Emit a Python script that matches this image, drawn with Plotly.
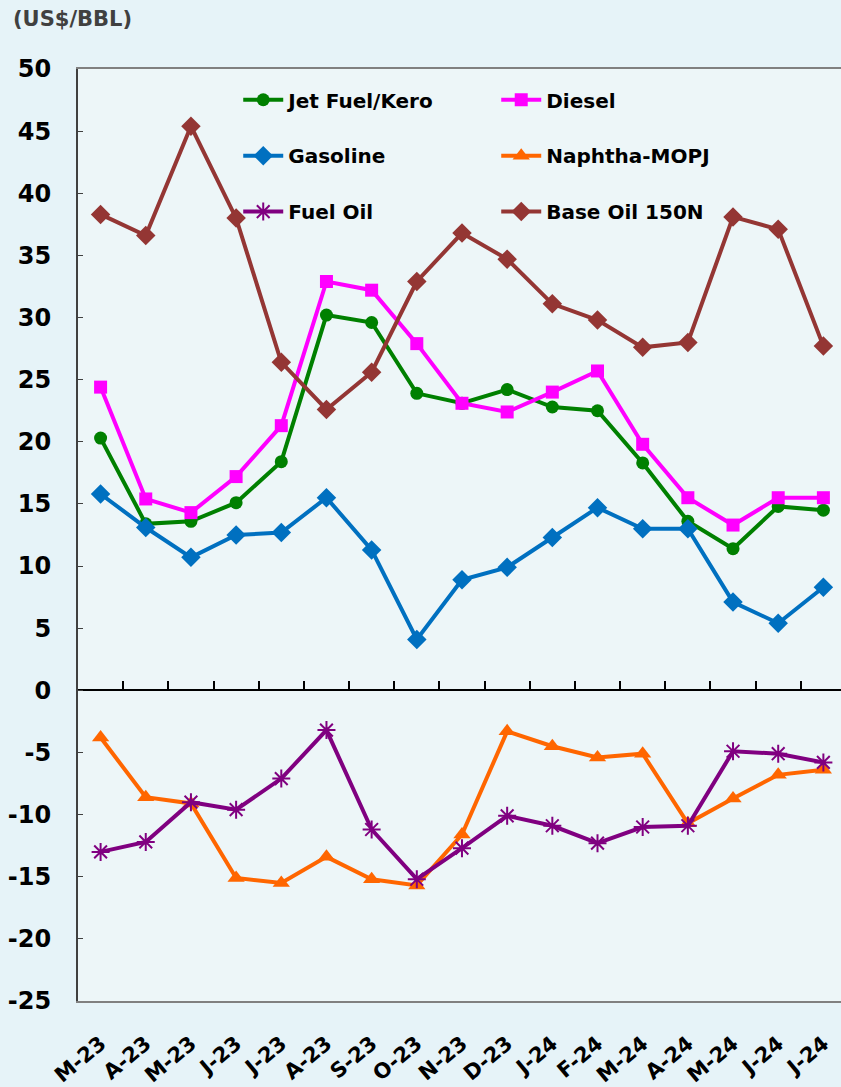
import plotly.graph_objects as go

months = ["M-23", "A-23", "M-23", "J-23", "J-23", "A-23", "S-23", "O-23", "N-23",
          "D-23", "J-24", "F-24", "M-24", "A-24", "M-24", "J-24", "J-24"]

jet_fuel = [20.3, 13.4, 13.6, 15.1, 18.4, 30.2, 29.6, 23.9, 23.1, 24.2, 22.8, 22.5,
            18.3, 13.6, 11.4, 14.8, 14.5]
diesel = [24.4, 15.4, 14.3, 17.2, 21.3, 32.9, 32.2, 27.9, 23.1, 22.4, 24.0, 25.7,
          19.8, 15.5, 13.3, 15.5, 15.5]
gasoline = [15.8, 13.1, 10.7, 12.5, 12.7, 15.5, 11.3, 4.1, 8.9, 9.9, 12.3, 14.7,
            13.0, 13.0, 7.1, 5.4, 8.3]
naphtha = [-3.8, -8.6, -9.1, -15.1, -15.5, -13.4, -15.2, -15.7, -11.6, -3.3, -4.5,
           -5.4, -5.1, -10.7, -8.7, -6.8, -6.4]
fuel_oil = [-13.0, -12.2, -9.0, -9.6, -7.1, -3.2, -11.2, -15.2, -12.7, -10.1, -10.9,
            -12.3, -11.0, -10.9, -4.9, -5.1, -5.8]
base_oil = [38.3, 36.6, 45.4, 38.0, 26.4, 22.6, 25.6, 32.9, 36.8, 34.7, 31.1, 29.8,
            27.6, 28.0, 38.1, 37.1, 27.7]

y_ticks = list(range(-25, 51, 5))
y_tick_text = [str(v) for v in y_ticks]

idx = list(range(len(months)))
FONT = "DejaVu Sans"

series = [
    ("Jet Fuel/Kero", jet_fuel, "#008000", "circle", 13, "legend"),
    ("Diesel", diesel, "#FF00FF", "square", 13, "legend"),
    ("Gasoline", gasoline, "#0070C0", "diamond", 15, "legend2"),
    ("Naphtha-MOPJ", naphtha, "#FF6600", "triangle-up", 15, "legend2"),
    ("Fuel Oil", fuel_oil, "#800080", "asterisk-open", 15, "legend3"),
    ("Base Oil 150N", base_oil, "#943634", "diamond", 15, "legend3"),
]

fig = go.Figure()
for name, vals, color, sym, size, leg in series:
    marker = dict(symbol=sym, size=size, color=color)
    if sym == "asterisk-open":
        marker["line"] = dict(color=color, width=2)
    fig.add_trace(go.Scatter(
        x=idx, y=vals, name=name, mode="lines+markers",
        line=dict(color=color, width=4), marker=marker, legend=leg,
    ))

# invisible trace for the zero-line axis
fig.add_trace(go.Scatter(x=idx, y=[None] * len(idx), xaxis="x2", showlegend=False,
                         hoverinfo="skip", mode="lines"))

n = len(months)
x_range = [-0.5, n - 0.61]

leg_common = dict(orientation="h", xanchor="left", yanchor="middle",
                  bgcolor="rgba(0,0,0,0)", entrywidth=203, entrywidthmode="pixels",
                  font=dict(family=FONT, size=20, color="black", weight="bold"),
                  itemwidth=40)

fig.update_layout(
    width=841, height=1087,
    margin=dict(l=78, r=0, t=69, b=82),
    paper_bgcolor="#E6F3F8",
    plot_bgcolor="#EDF6F8",
    showlegend=True,
    legend=dict(x=0.21, y=0.967, **leg_common),
    legend2=dict(x=0.21, y=0.907, **leg_common),
    legend3=dict(x=0.21, y=0.847, **leg_common),
    xaxis=dict(
        range=x_range, tickmode="array", tickvals=idx, ticktext=months,
        tickangle=-40, showgrid=False, zeroline=False,
        showline=True, linecolor="#808080", linewidth=2, mirror=True,
        ticks="", ticklabelstandoff=20,
        tickfont=dict(family=FONT, size=21, color="black", weight="bold"),
    ),
    xaxis2=dict(
        range=x_range, overlaying="x", anchor="free", position=1 / 3,
        tickmode="array", tickvals=[i + 0.5 for i in idx[:-1]],
        showticklabels=False, ticks="inside", ticklen=9, tickcolor="black",
        tickwidth=1.5, showline=True, linecolor="black", linewidth=1.5,
        showgrid=False, zeroline=False,
    ),
    yaxis=dict(
        range=[-25, 50], tickmode="array", tickvals=y_ticks, ticktext=y_tick_text,
        showgrid=False, zeroline=False,
        showline=True, linecolor="#404040", linewidth=2,
        ticks="inside", ticklen=5, tickcolor="#404040",
        ticklabelstandoff=20,
        tickfont=dict(family=FONT, size=24, color="black", weight="bold"),
    ),
    annotations=[dict(
        text="(US$/BBL)", xref="paper", yref="paper", x=-0.088, y=1.0,
        xanchor="left", yanchor="bottom", yshift=36, showarrow=False,
        font=dict(family=FONT, size=21, color="#404040", weight="bold"),
    )],
)

fig.write_html("out.html", config={"displayModeBar": False},
               post_script="document.body.style.margin='0';")
